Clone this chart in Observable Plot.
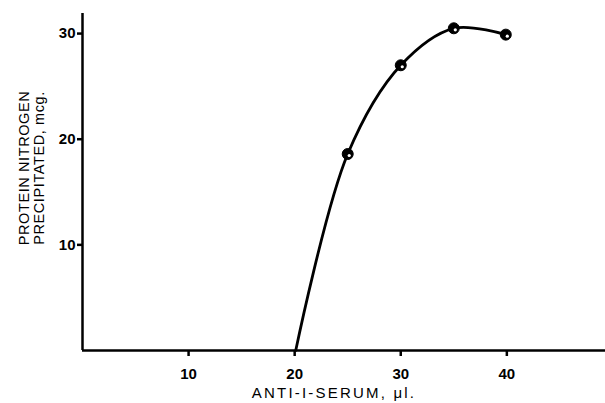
<!DOCTYPE html>
<html>
<head>
<meta charset="utf-8">
<script src="https://cdn.jsdelivr.net/npm/d3@7"></script>
<script src="https://cdn.jsdelivr.net/npm/@observablehq/plot@0.6"></script>
<style>
  html, body { margin: 0; padding: 0; background: #fff; }
  svg { display: block; }
  .xtitle text { letter-spacing: 2.2px; }
  .ytitle text { letter-spacing: 0.6px; }
</style>
</head>
<body>
<div id="chart"></div>
<script>
// Measured points (anti-I-serum µl, protein nitrogen mcg)
const serum = [25, 30, 35, 39.9];
const nitrogen = [18.6, 27.0, 30.5, 29.9];
// Hand-drawn curve: axis crossing, then through the points
const curveSerum = [20.1, 25, 30, 35, 39.9];
const curveNitrogen = [0, 18.6, 27.0, 30.5, 29.9];
const xTicks = [10, 20, 30, 40];
const yTicks = [10, 20, 30];
const xTitle = "ANTI-I-SERUM, μl.";
const yTitle = "PROTEIN NITROGEN\nPRECIPITATED, mcg.";

const points = serum.map((s, i) => ({s, n: nitrogen[i]}));
const curve = curveSerum.map((s, i) => ({s, n: curveNitrogen[i]}));

const font = "'Liberation Sans', Arial, sans-serif";

const chart = Plot.plot({
  width: 605,
  height: 403,
  marginLeft: 82,
  marginRight: 0,
  marginTop: 13,
  marginBottom: 53,
  style: {fontFamily: font, background: "#fff", color: "#000", overflow: "visible"},
  x: {domain: [0, 49.3], axis: null},
  y: {domain: [0, 31.9], axis: null},
  marks: [
    Plot.axisX({ticks: xTicks, tickSize: 6, tickPadding: 12, strokeWidth: 2.5, fontSize: 15, fontWeight: "bold", label: null, tickFormat: d => String(d)}),
    Plot.axisY({ticks: yTicks, tickSize: 5, tickPadding: 2, strokeWidth: 2.5, fontSize: 15, fontWeight: "bold", label: null, tickFormat: d => String(d)}),
    Plot.ruleY([0], {strokeWidth: 2.5}),
    Plot.ruleX([0], {strokeWidth: 2.5}),
    Plot.line(curve, {x: "s", y: "n", curve: "catmull-rom", strokeWidth: 2.8}),
    Plot.dot(points, {x: "s", y: "n", r: 5.5, fill: "#000", stroke: "#000", strokeWidth: 1}),
    Plot.dot(points, {x: "s", y: "n", r: 1.6, fill: "#fff", dx: 1.5, dy: 1.5}),
    Plot.text([xTitle], {className: "xtitle", frameAnchor: "bottom", dx: -10, dy: 43, fontSize: 15, fill: "#000", textAnchor: "middle", lineAnchor: "middle"}),
    Plot.text([yTitle], {className: "ytitle", frameAnchor: "left", rotate: -90, dx: -51, dy: -14, fontSize: 14.5, lineHeight: 1.02, fill: "#000", textAnchor: "middle", lineAnchor: "middle"})
  ]
});
document.getElementById("chart").appendChild(chart);
</script>
</body>
</html>
